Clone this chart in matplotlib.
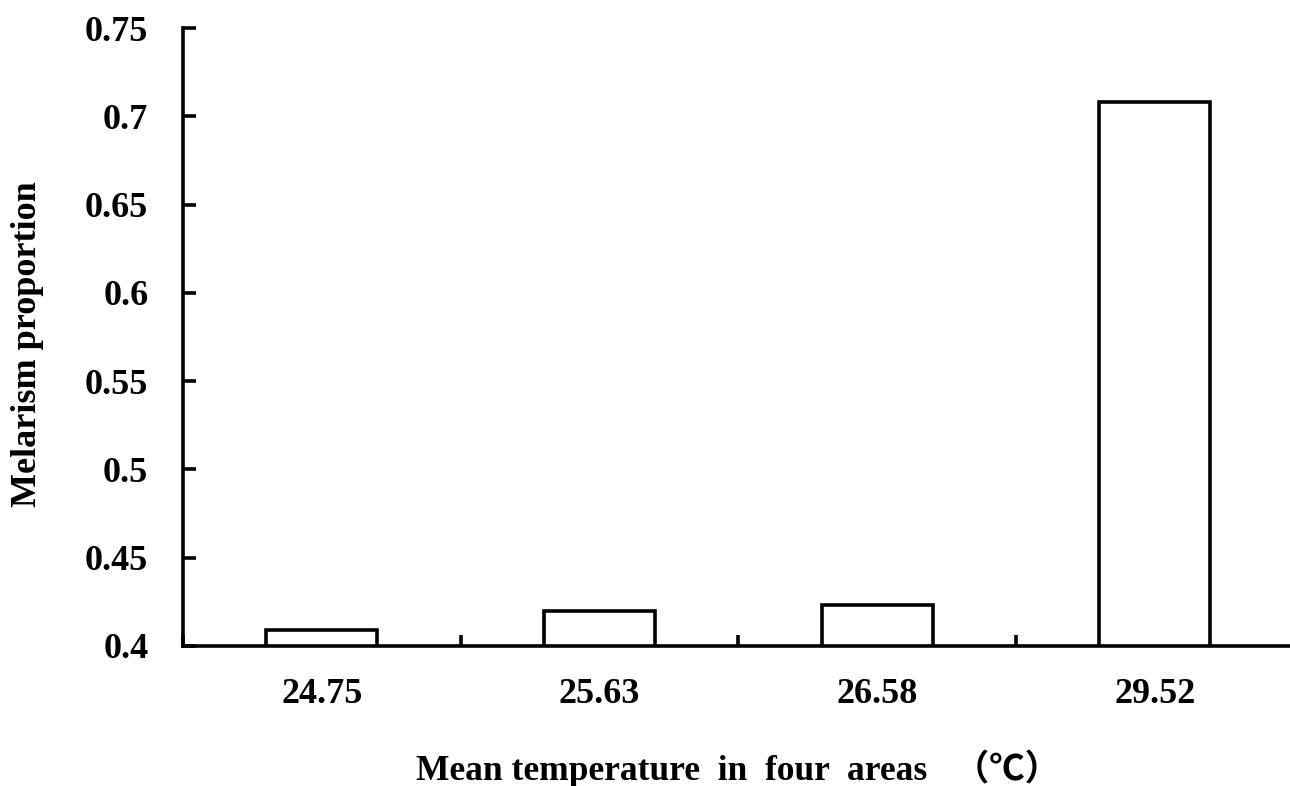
import numpy as np
import matplotlib
matplotlib.use("Agg")
import matplotlib.pyplot as plt
from matplotlib.ticker import FixedLocator

# data
temps = ["24.75", "25.63", "26.58", "29.52"]
melanism = [0.409, 0.420, 0.423, 0.708]
yticks = [0.4, 0.45, 0.5, 0.55, 0.6, 0.65, 0.7, 0.75]
ytick_labels = ["0.4", "0.45", "0.5", "0.55", "0.6", "0.65", "0.7", "0.75"]

FONT = ["Liberation Serif", "Noto Sans CJK SC", "DejaVu Serif"]
plt.rcParams["font.family"] = FONT
plt.rcParams["font.weight"] = "bold"

W, H = 1290, 786
fig = plt.figure(figsize=(W / 100, H / 100), dpi=100)
# axes in pixel terms: left spine x=183, bottom y=646, top y=28, category width ~277.7
left, right, top, bottom = 183, 183 + 4 * 277.7, 28, 646
ax = fig.add_axes([left / W, (H - bottom) / H, (right - left) / W, (bottom - top) / H])

x = np.arange(len(temps))
ax.bar(x, melanism, width=0.4, bottom=0, color="white",
       edgecolor="black", linewidth=2.6, zorder=3)

ax.set_xlim(-0.5, len(temps) - 0.5)
ax.set_ylim(0.4, 0.75)

for s in ["top", "right"]:
    ax.spines[s].set_visible(False)
for s in ["left", "bottom"]:
    ax.spines[s].set_linewidth(2.6)
    ax.spines[s].set_zorder(4)

ax.set_yticks(yticks)
ax.set_yticklabels(ytick_labels)
ax.tick_params(axis="y", direction="in", length=9, width=2.6, pad=25,
               labelsize=26)

# category labels without marks, boundary marks without labels
ax.set_xticks(x)
ax.set_xticklabels(temps)
ax.tick_params(axis="x", which="major", length=0, pad=23, labelsize=26)
ax.xaxis.set_minor_locator(FixedLocator(np.arange(-0.5, len(temps), 1.0)))
ax.tick_params(axis="x", which="minor", direction="in", length=8, width=2.6)

for lab in ax.get_xticklabels() + ax.get_yticklabels():
    lab.set_fontweight("bold")

fig.text(28 / W, 1 - 344 / H, "Melarism proportion", rotation=90,
         ha="center", va="center", fontsize=26, fontweight="bold")
fig.text(738 / W, 1 - 769 / H, "Mean temperature  in  four  areas   （℃）",
         ha="center", va="center", fontsize=25.5, fontweight="bold",
         family=FONT)

fig.savefig("out.png", dpi=100, facecolor="white")
